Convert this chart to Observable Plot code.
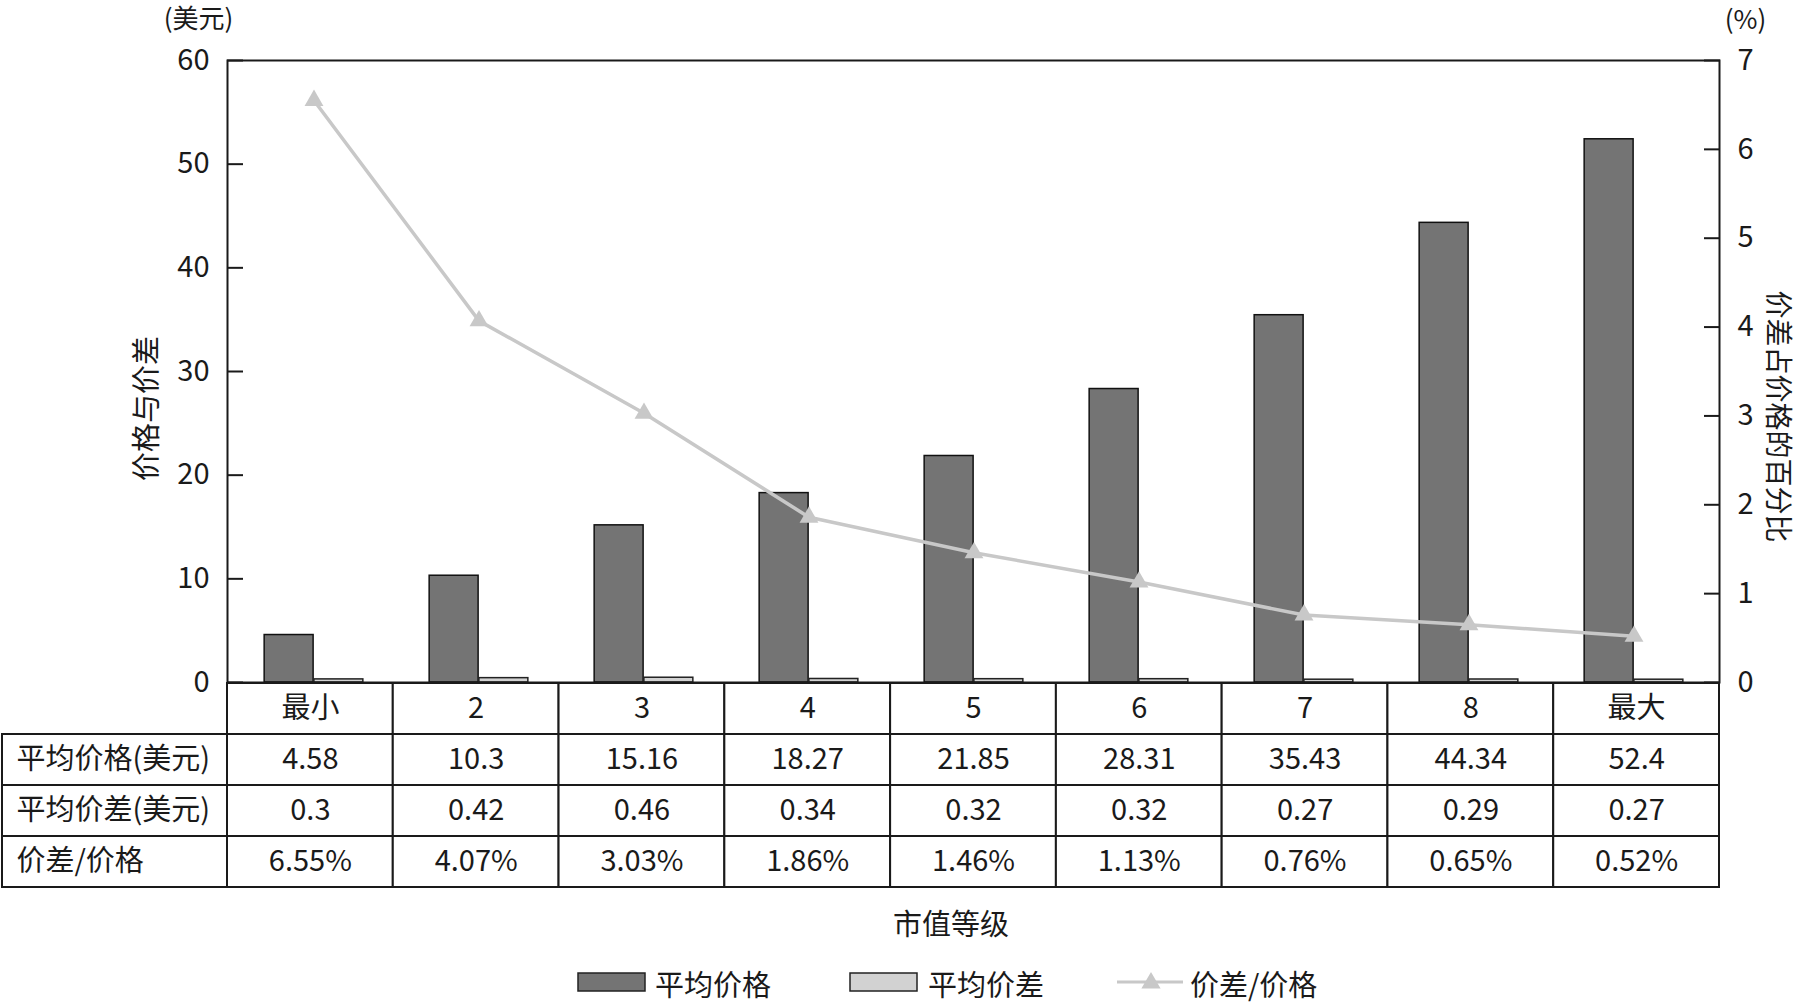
<!DOCTYPE html>
<html>
<head>
<meta charset="utf-8">
<script src="https://cdn.jsdelivr.net/npm/d3@7"></script>
<script src="https://cdn.jsdelivr.net/npm/@observablehq/plot@0.6"></script>
<style>
  html, body { margin: 0; padding: 0; background: #fff; overflow: hidden; }
  #wrap { position: relative; width: 1801px; height: 1002px; font-family: "Noto Sans CJK SC", "Noto Sans", sans-serif; color: #1a1a1a; }
  #wrap svg { position: absolute; left: 0; }
  .lbl { position: absolute; font-size: 29px; line-height: 1; white-space: nowrap; transform: translate(0, -50%); }
</style>
</head>
<body>
<div id="wrap"></div>
<script>
// ---- data ----
const categories = ["最小", "2", "3", "4", "5", "6", "7", "8", "最大"];
const avgPrice   = [4.58, 10.3, 15.16, 18.27, 21.85, 28.31, 35.43, 44.34, 52.4];
const avgSpread  = [0.3, 0.42, 0.46, 0.34, 0.32, 0.32, 0.27, 0.29, 0.27];
const spreadPct  = [6.55, 4.07, 3.03, 1.86, 1.46, 1.13, 0.76, 0.65, 0.52];
const leftTicks  = [0, 10, 20, 30, 40, 50, 60];
const rightTicks = [0, 1, 2, 3, 4, 5, 6, 7];
const rowLabels  = ["平均价格(美元)", "平均价差(美元)", "价差/价格"];
const seriesNames = ["平均价格", "平均价差", "价差/价格"];

// ---- layout / style ----
const FONT = '"Noto Sans CJK SC", "Noto Sans", sans-serif';
const W = 1801, ML = 227, MR = 82, MT = 60;
const DARK = "#747474", LIGHT = "#d2d2d2", LINE = "#c8c8c8", INK = "#1a1a1a";
const k = 60 / 7; // right axis (0-7 %) mapped onto left axis (0-60)
const bw = (W - ML - MR) / categories.length;

const rows = categories.map((c, i) => ({cat: c, price: avgPrice[i], spread: avgSpread[i], pct: spreadPct[i]}));

const wrap = document.getElementById("wrap");

// ---- table (drawn first, chart overlays it) ----
const tableRowKeys = ["head", "price", "spread", "pct"];
const cellData = [];
categories.forEach((c, i) => {
  cellData.push({col: i, row: "head", text: c});
  cellData.push({col: i, row: "price", text: String(avgPrice[i])});
  cellData.push({col: i, row: "spread", text: String(avgSpread[i])});
  cellData.push({col: i, row: "pct", text: spreadPct[i].toFixed(2) + "%"});
});
const labelSpan = (ML - 2) / bw;
const labelData = rowLabels.map((t, j) => ({row: tableRowKeys[j + 1], text: t}));

const table = Plot.plot({
  width: W, height: 212,
  marginLeft: ML, marginRight: MR, marginTop: 2, marginBottom: 5,
  style: {fontFamily: FONT, fontSize: "29px", color: INK, background: "transparent", overflow: "visible"},
  x: {domain: [0, categories.length], axis: null},
  y: {domain: tableRowKeys, padding: 0, axis: null},
  marks: [
    Plot.barX(cellData, {x1: d => d.col, x2: d => d.col + 1, y: "row", fill: "white", stroke: INK, strokeWidth: 2}),
    Plot.barX(labelData, {x1: -labelSpan, x2: 0, y: "row", fill: "white", stroke: INK, strokeWidth: 2}),
    Plot.text(cellData, {x: d => d.col + 0.5, y: "row", text: "text", fill: INK}),
    Plot.text(labelData, {x: -labelSpan, y: "row", text: "text", textAnchor: "start", dx: 14, fill: INK})
  ]
});
table.style.top = "680px";
wrap.appendChild(table);

// ---- chart ----
const chart = Plot.plot({
  width: W, height: 683,
  marginLeft: ML, marginRight: MR, marginTop: MT, marginBottom: 1,
  style: {fontFamily: FONT, fontSize: "29px", color: INK, background: "transparent", overflow: "visible"},
  x: {domain: categories, padding: 0, axis: null},
  y: {domain: [0, 60], axis: null},
  marks: [
    Plot.barY(rows, {x: "cat", y: "price", fill: DARK, stroke: "#111", strokeWidth: 1.5, insetLeft: bw * 0.2, insetRight: bw * 0.5}),
    Plot.barY(rows, {x: "cat", y: "spread", fill: LIGHT, stroke: "#222", strokeWidth: 1.5, insetLeft: bw * 0.5, insetRight: bw * 0.2}),
    Plot.line(rows, {x: "cat", y: d => d.pct * k, stroke: LINE, strokeWidth: 3.5}),
    Plot.dot(rows, {x: "cat", y: d => d.pct * k, symbol: "triangle", fill: LINE, stroke: "none", r: 7}),
    Plot.frame({stroke: INK, strokeWidth: 2}),
    Plot.axisY(leftTicks, {anchor: "left", label: null, tickSize: -16, tickPadding: 34, strokeWidth: 2, stroke: INK, fill: INK}),
    Plot.axisY(rightTicks, {anchor: "right", label: null, y: d => d * k, tickFormat: d => String(d), tickSize: -16, tickPadding: 34, strokeWidth: 2, stroke: INK, fill: INK}),
    Plot.text(["(美元)"], {frameAnchor: "top-left", dx: -29, dy: -41, fontSize: 26, textAnchor: "middle", lineAnchor: "middle", fill: INK}),
    Plot.text(["(%)"], {frameAnchor: "top-right", dx: 26, dy: -40, fontSize: 26, textAnchor: "middle", lineAnchor: "middle", fill: INK}),
    Plot.text(["价格与价差"], {frameAnchor: "left", dx: -80, dy: 37, rotate: -90, textAnchor: "middle", lineAnchor: "middle", fill: INK}),
    Plot.text(["价差占价格的百分比"], {frameAnchor: "right", dx: 57, dy: 45, rotate: 90, fontSize: 28, textAnchor: "middle", lineAnchor: "middle", fill: INK})
  ]
});
chart.style.top = "0px";
wrap.appendChild(chart);

// ---- x title ----
const xt = document.createElement("div");
xt.className = "lbl";
xt.style.left = "951px"; xt.style.top = "922px";
xt.style.transform = "translate(-50%, -50%)";
xt.textContent = "市值等级";
wrap.appendChild(xt);

// ---- legend ----
function swatch(x, kind) {
  const ns = "http://www.w3.org/2000/svg";
  const s = document.createElementNS(ns, "svg");
  s.setAttribute("width", 70); s.setAttribute("height", 24);
  s.style.position = "absolute"; s.style.left = x + "px"; s.style.top = "970px";
  if (kind === "line") {
    const l = document.createElementNS(ns, "line");
    l.setAttribute("x1", 0); l.setAttribute("x2", 66); l.setAttribute("y1", 12); l.setAttribute("y2", 12);
    l.setAttribute("stroke", LINE); l.setAttribute("stroke-width", 3);
    s.appendChild(l);
    const p = document.createElementNS(ns, "path");
    p.setAttribute("d", d3.symbol(d3.symbolTriangle, 160)());
    p.setAttribute("transform", "translate(34,13)");
    p.setAttribute("fill", LINE);
    s.appendChild(p);
  } else {
    const r = document.createElementNS(ns, "rect");
    r.setAttribute("x", 1); r.setAttribute("y", 3); r.setAttribute("width", 67); r.setAttribute("height", 18);
    r.setAttribute("fill", kind === "dark" ? DARK : LIGHT);
    r.setAttribute("stroke", "#222"); r.setAttribute("stroke-width", 1.5);
    s.appendChild(r);
  }
  wrap.appendChild(s);
}
function legendText(x, t) {
  const d = document.createElement("div");
  d.className = "lbl";
  d.style.left = x + "px"; d.style.top = "983px";
  d.textContent = t;
  wrap.appendChild(d);
}
swatch(577, "dark");  legendText(655, seriesNames[0]);
swatch(849, "light"); legendText(928, seriesNames[1]);
swatch(1117, "line"); legendText(1190, seriesNames[2]);
</script>
</body>
</html>
